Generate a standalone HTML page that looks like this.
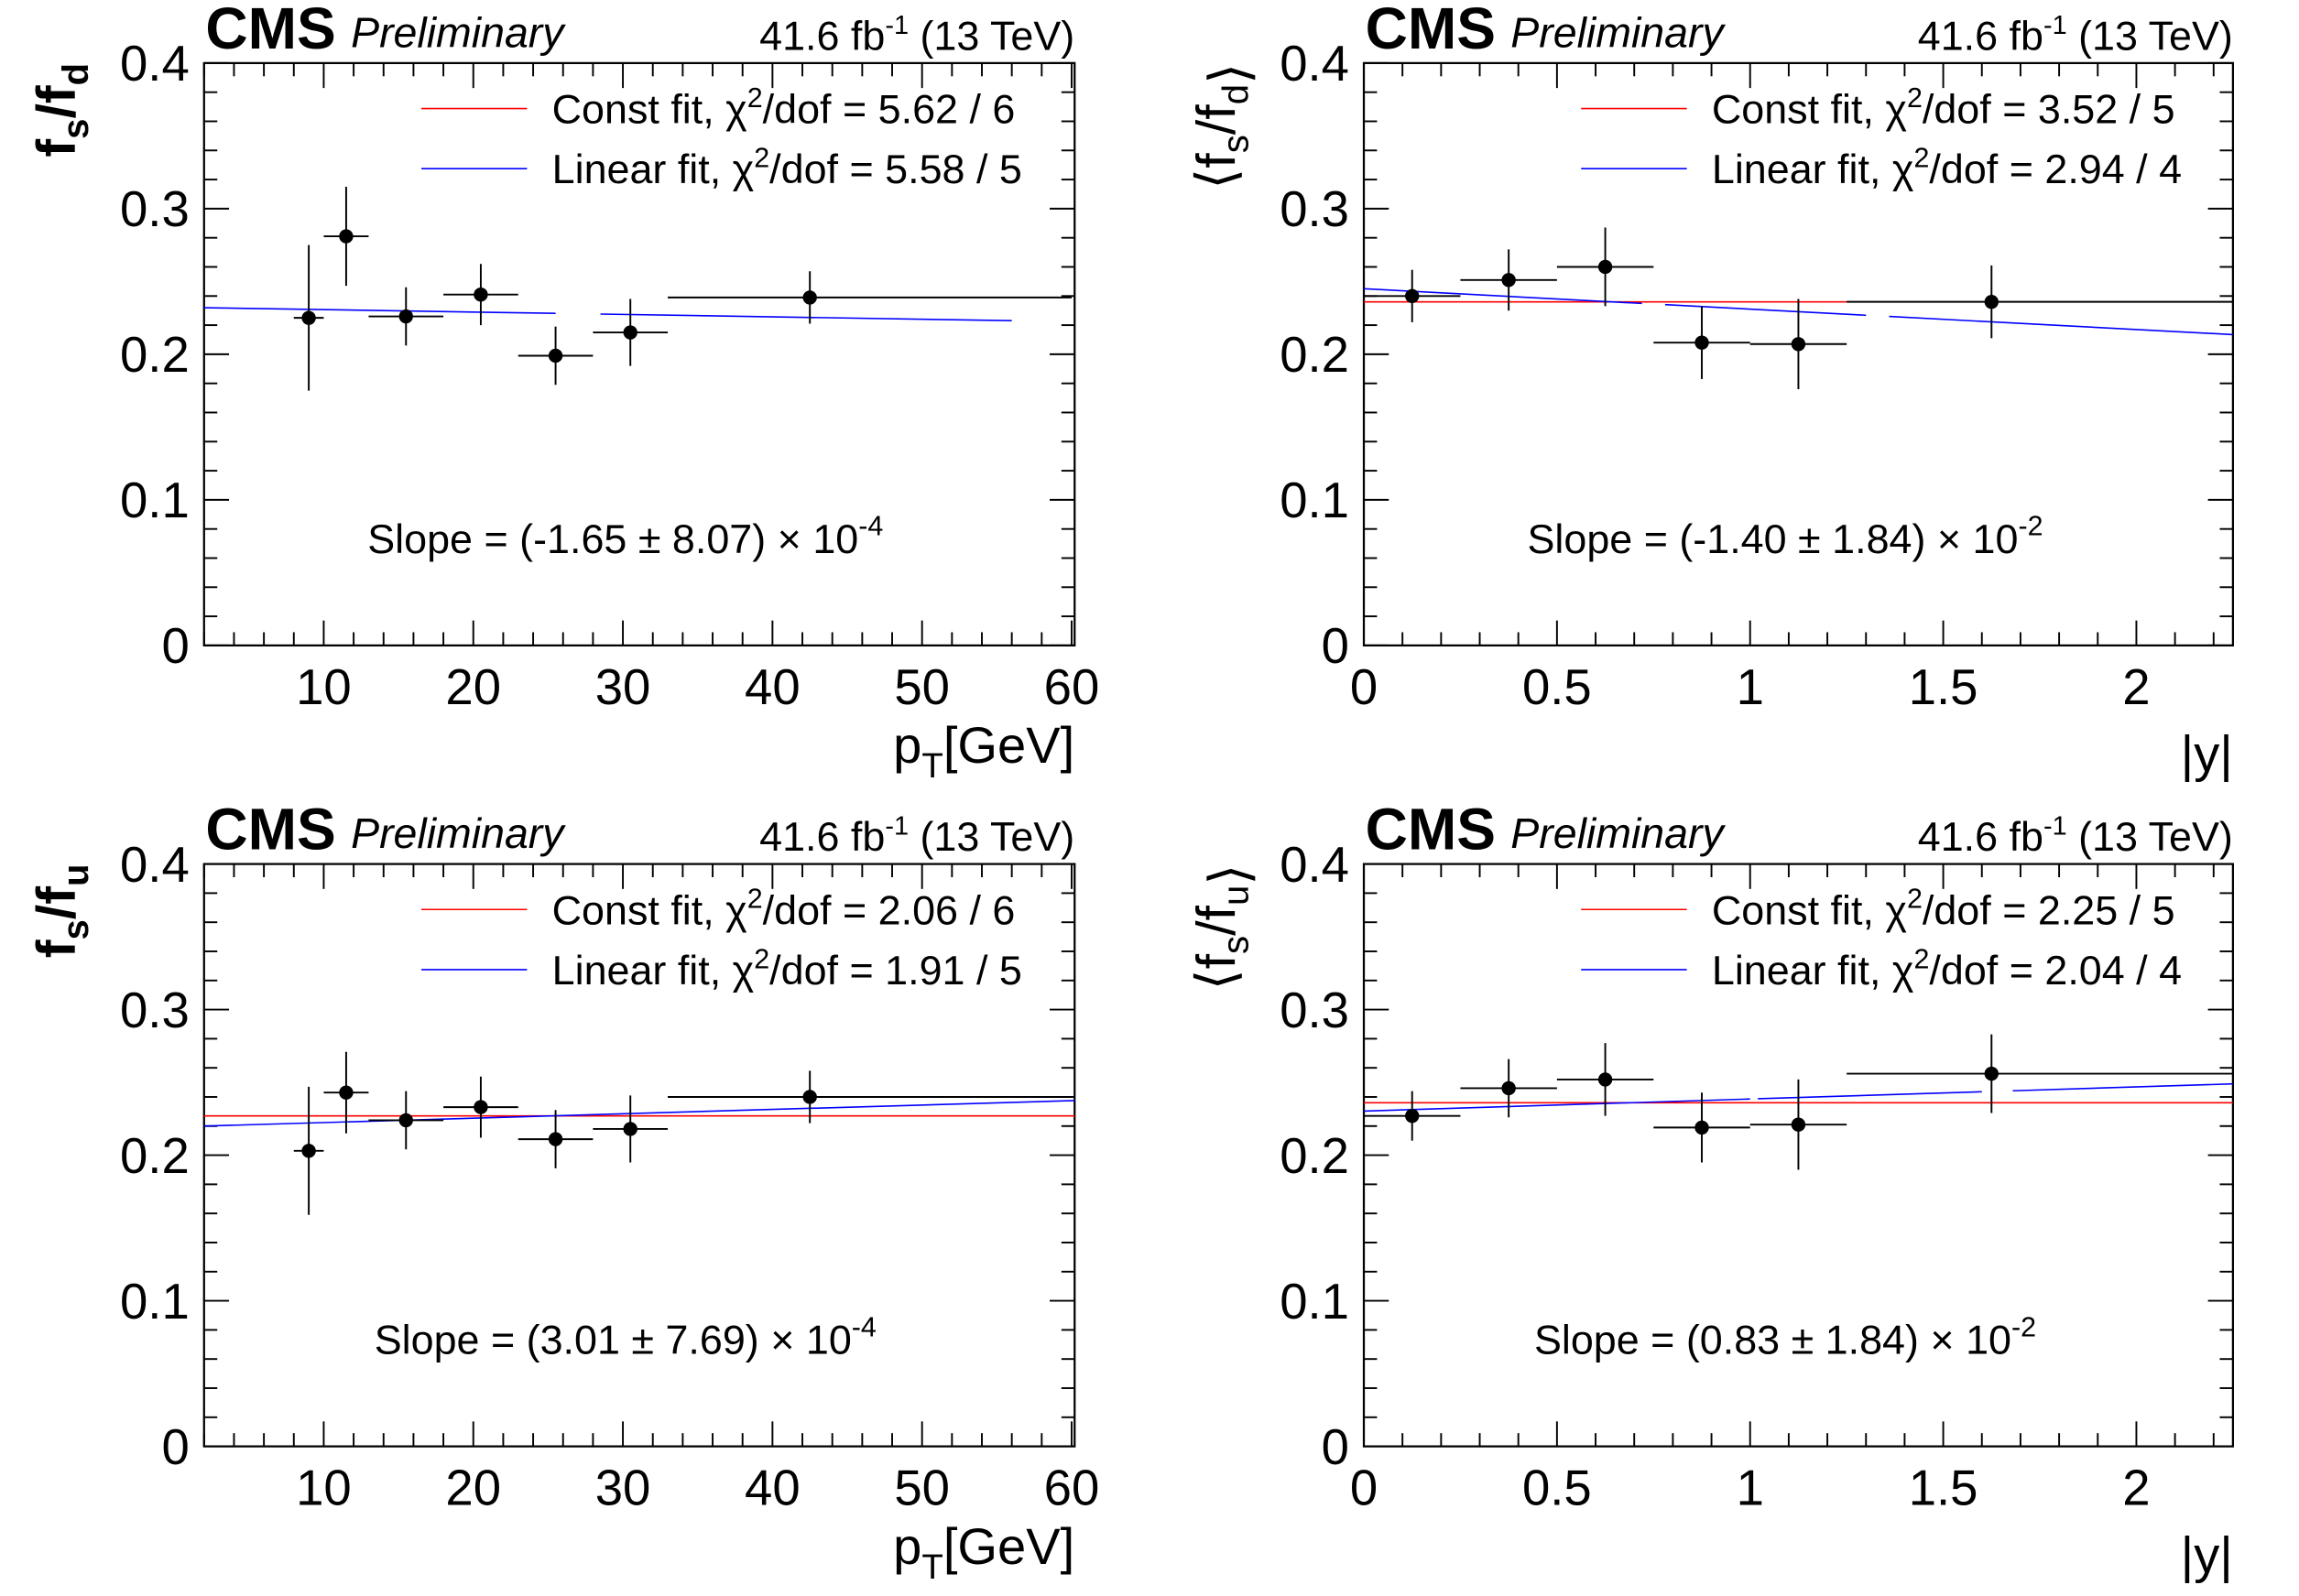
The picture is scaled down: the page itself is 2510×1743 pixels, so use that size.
<!DOCTYPE html>
<html><head><meta charset="utf-8"><style>
html,body{margin:0;padding:0;background:#fff;}
svg{display:block;}
text{font-family:"Liberation Sans",sans-serif;fill:#000;}
</style></head><body>
<svg id="fig" width="2510" height="1743" viewBox="0 0 1566 1088" preserveAspectRatio="none" xmlns="http://www.w3.org/2000/svg"></svg>
<script>
// ---- data: top-left f_s/f_d vs pT
const ptX = [9, 11.5, 15.5, 20.5, 25.5, 30.5, 42.5];
const ptLo = [8, 10, 13, 18, 23, 28, 33];
const ptHi = [10, 13, 18, 23, 28, 33, 60];
const fdPtY = [0.225, 0.281, 0.226, 0.241, 0.199, 0.215, 0.239];
const fdPtEl = [0.050, 0.034, 0.020, 0.021, 0.020, 0.023, 0.018];
// ---- top-right f_s/f_d vs |y|
const yX = [0.125, 0.375, 0.625, 0.875, 1.125, 1.625];
const yLo = [0, 0.25, 0.5, 0.75, 1.0, 1.25];
const yHi = [0.25, 0.5, 0.75, 1.0, 1.25, 2.25];
const fdYY = [0.240, 0.251, 0.260, 0.208, 0.207, 0.236];
const fdYE = [0.018, 0.021, 0.027, 0.025, 0.031, 0.025];
// ---- bottom-left f_s/f_u vs pT
const fuPtY = [0.203, 0.243, 0.224, 0.233, 0.211, 0.218, 0.240];
const fuPtE = [0.044, 0.028, 0.020, 0.021, 0.020, 0.023, 0.018];
// ---- bottom-right f_s/f_u vs |y|
const fuYY = [0.227, 0.246, 0.252, 0.219, 0.221, 0.256];
const fuYE = [0.017, 0.020, 0.025, 0.024, 0.031, 0.027];
// ---- fits [const, intercept, slope]
const fitFdPt = [null, 0.2323, -0.000165];
const fitFdY = [0.236, 0.245, -0.0140];
const fitFuPt = [0.227, 0.2194, 0.000301];
const fitFuY = [0.236, 0.2303, 0.0083];
const yTicks = [0, 0.1, 0.2, 0.3, 0.4];
const yTickLabels = ["0", "0.1", "0.2", "0.3", "0.4"];
const ptTicks = [10, 20, 30, 40, 50, 60];
const absYTicks = [0, 0.5, 1, 1.5, 2];
const absYTickLabels = ["0", "0.5", "1", "1.5", "2"];

const NS = "http://www.w3.org/2000/svg";
const svg = document.getElementById('fig');
function el(tag, attrs, parent) {
  const e = document.createElementNS(NS, tag);
  for (const k in attrs) e.setAttribute(k, attrs[k]);
  (parent || svg).appendChild(e);
  return e;
}
function txt(parent, x, y, size, html, anchor, extra) {
  const t = el('text', Object.assign({x: x, y: y, 'font-size': size, 'text-anchor': anchor || 'start'}, extra || {}), parent);
  t.innerHTML = html;
  return t;
}

function panel(cfg) {
  const g = el('g', {});
  
  
  const L = cfg.left, R = cfg.right, T = cfg.top, B = cfg.bottom;
  const sx = v => L + (v - cfg.xmin) / (cfg.xmax - cfg.xmin) * (R - L);
  const sy = v => B - (v - 0) / (0.4 - 0) * (B - T);
  const fr = el('rect', {x: L, y: T, width: R - L, height: B - T, fill: 'none', stroke: '#000', 'stroke-width': 1.4}, g);
  
  
  for (let i = 0; i <= 20; i++) {
    const v = i * 0.02, y = sy(v), len = (i % 5 === 0) ? 17 : 9;
    el('line', {x1: L, x2: L + len, y1: y, y2: y, stroke: '#000', 'stroke-width': 1.2}, g);
    el('line', {x1: R, x2: R - len, y1: y, y2: y, stroke: '#000', 'stroke-width': 1.2}, g);
  }
  yTicks.forEach((v, i) => {
    const t = txt(g, L - 10, sy(v) + 12, 34, yTickLabels[i], 'end');
    
    
  });
  const x0 = Math.ceil(cfg.xmin / cfg.minor - 1e-6) * cfg.minor;
  for (let v = x0; v <= cfg.xmax + 1e-6; v += cfg.minor) {
    const x = sx(v);
    const r = v / cfg.major;
    const len = Math.abs(r - Math.round(r)) < 1e-6 ? 17 : 9;
    el('line', {x1: x, x2: x, y1: B, y2: B - len, stroke: '#000', 'stroke-width': 1.2}, g);
    el('line', {x1: x, x2: x, y1: T, y2: T + len, stroke: '#000', 'stroke-width': 1.2}, g);
  }
  cfg.xTicks.forEach((v, i) => {
    const t = txt(g, sx(v), B + 40, 34, cfg.xLabels[i], 'middle');
    
    
  });
  const d = cfg.data;
  if (cfg.fit[0] !== null) {
    const c = el('line', {x1: sx(cfg.xmin), x2: sx(cfg.xmax), y1: sy(cfg.fit[0]), y2: sy(cfg.fit[0]), stroke: '#ff0000', 'stroke-width': 1}, g);
    
    
  }
  cfg.segs.forEach(s => {
    const f = x => cfg.fit[1] + cfg.fit[2] * x;
    const l = el('line', {x1: sx(s[0]), x2: sx(s[1]), y1: sy(f(s[0])), y2: sy(f(s[1])), stroke: '#0000ff', 'stroke-width': 1}, g);
    
    
  });
  d.x.forEach((xv, i) => {
    const pg = el('g', {}, g);
    
    
    const cx = sx(xv), cy = sy(d.y[i]);
    el('line', {x1: sx(d.lo[i]), x2: Math.min(sx(d.hi[i]), R), y1: cy, y2: cy, stroke: '#000', 'stroke-width': 1.2}, pg);
    el('line', {x1: cx, x2: cx, y1: sy(d.y[i] - d.e[i]), y2: sy(d.y[i] + d.e[i]), stroke: '#000', 'stroke-width': 1.2}, pg);
    el('circle', {cx: cx, cy: cy, r: 4.8, fill: '#000'}, pg);
  });
  const cms = txt(g, L + 1, T - 10, 40, 'CMS', 'start', {'font-weight': 'bold'});
  
  
  const pre = txt(g, L + 100, T - 11, 29, 'Preliminary', 'start', {'font-style': 'italic'});
  
  
  const lumi = txt(g, R, T - 9, 28, '41.6 fb<tspan dy="-11" font-size="18">-1</tspan><tspan dy="11"> (13 TeV)</tspan>', 'end');
  
  
  const lg = el('g', {}, g);
  
  
  el('line', {x1: L + 148, x2: L + 220, y1: T + 31, y2: T + 31, stroke: '#ff0000', 'stroke-width': 1}, lg);
  el('line', {x1: L + 148, x2: L + 220, y1: T + 72, y2: T + 72, stroke: '#0000ff', 'stroke-width': 1}, lg);
  txt(lg, L + 237, T + 41, 28, 'Const fit, χ<tspan dy="-11" font-size="19">2</tspan><tspan dy="11">/dof = ' + cfg.leg[0] + '</tspan>');
  txt(lg, L + 237, T + 82, 28, 'Linear fit, χ<tspan dy="-11" font-size="19">2</tspan><tspan dy="11">/dof = ' + cfg.leg[1] + '</tspan>');
  const sl = txt(g, L + 287, T + 334, 28, cfg.slope + '<tspan dy="-12" font-size="19">' + cfg.exp + '</tspan>', 'middle');
  
  
  const xt = txt(g, R, B + (cfg.isPt ? 80 : 86), 35, cfg.xtitle, 'end');
  
  
  const yt = txt(g, 0, 0, 37, cfg.ytitle, 'end', {transform: 'translate(' + (L - 88) + ',' + (T) + ') rotate(-90)'});
  
  
}

const ptTitle = 'p<tspan dy="10" font-size="24">T</tspan><tspan dy="-10">[GeV]</tspan>';
const sub = (a, b) => '<tspan dy="9" font-size="25">' + a + '</tspan><tspan dy="-9">/f</tspan><tspan dy="9" font-size="25">' + b + '</tspan><tspan dy="-9"></tspan>';

panel({name: 'panel-fsfd-pt', left: 139, right: 732, top: 43, bottom: 440, xmin: 2, xmax: 60.2, minor: 2, major: 10,
  xTicks: ptTicks, xLabels: ptTicks.map(String), isPt: true,
  data: {x: ptX, lo: ptLo, hi: ptHi, y: fdPtY, e: fdPtEl}, fit: fitFdPt, segs: [[2, 25.5], [28.5, 56]],
  leg: ['5.62 / 6', '5.58 / 5'], slope: 'Slope = (-1.65 ± 8.07) × 10', exp: '-4',
  xtitle: ptTitle, ytitle: '<tspan font-weight="bold">f' + sub('s', 'd') + '</tspan>'});
panel({name: 'panel-fsfd-y', left: 929, right: 1521, top: 43, bottom: 440, xmin: 0, xmax: 2.25, minor: 0.1, major: 0.5,
  xTicks: absYTicks, xLabels: absYTickLabels, isPt: false,
  data: {x: yX, lo: yLo, hi: yHi, y: fdYY, e: fdYE}, fit: fitFdY, segs: [[0, 0.72], [0.78, 1.3], [1.36, 2.25]],
  leg: ['3.52 / 5', '2.94 / 4'], slope: 'Slope = (-1.40 ± 1.84) × 10', exp: '-2',
  xtitle: '|y|', ytitle: '⟨f' + sub('s', 'd') + '⟩'});
panel({name: 'panel-fsfu-pt', left: 139, right: 732, top: 589, bottom: 986, xmin: 2, xmax: 60.2, minor: 2, major: 10,
  xTicks: ptTicks, xLabels: ptTicks.map(String), isPt: true,
  data: {x: ptX, lo: ptLo, hi: ptHi, y: fuPtY, e: fuPtE}, fit: fitFuPt, segs: [[2, 60.2]],
  leg: ['2.06 / 6', '1.91 / 5'], slope: 'Slope = (3.01 ± 7.69) × 10', exp: '-4',
  xtitle: ptTitle, ytitle: '<tspan font-weight="bold">f' + sub('s', 'u') + '</tspan>'});
panel({name: 'panel-fsfu-y', left: 929, right: 1521, top: 589, bottom: 986, xmin: 0, xmax: 2.25, minor: 0.1, major: 0.5,
  xTicks: absYTicks, xLabels: absYTickLabels, isPt: false,
  data: {x: yX, lo: yLo, hi: yHi, y: fuYY, e: fuYE}, fit: fitFuY, segs: [[0, 1.0], [1.02, 1.6], [1.68, 2.25]],
  leg: ['2.25 / 5', '2.04 / 4'], slope: 'Slope = (0.83 ± 1.84) × 10', exp: '-2',
  xtitle: '|y|', ytitle: '⟨f' + sub('s', 'u') + '⟩'});
</script>
</body></html>
